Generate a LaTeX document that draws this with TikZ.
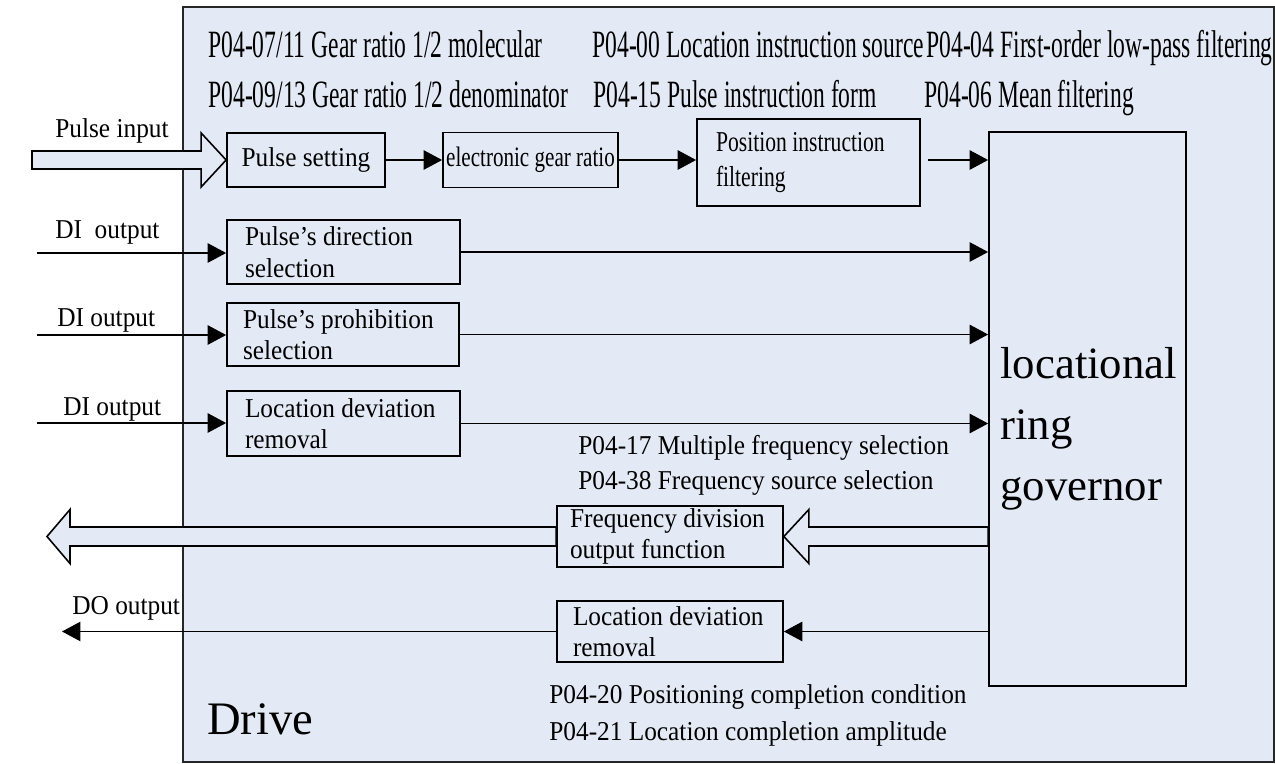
\documentclass[tikz,border=0pt]{standalone}
\usepackage{fontspec}
\setmainfont{Liberation Serif}
\newfontfamily\narrowserif[FakeStretch=0.61]{Liberation Serif}
\newfontfamily\semiserif[FakeStretch=0.75]{Liberation Serif}
\newfontfamily\bodyserif[FakeStretch=0.93]{Liberation Serif}
\usetikzlibrary{arrows.meta, calc}
\definecolor{drivebg}{RGB}{228,234,245}
\hyphenpenalty=10000
\exhyphenpenalty=10000

\begin{document}
\begin{tikzpicture}[x=0.02cm, y=-0.02cm,
  drivebox/.style={draw=black!85, line width=1pt, fill=drivebg,
    minimum width=21.82cm, minimum height=15.1cm, inner sep=0pt},
  blk/.style={draw, line width=1pt, fill=drivebg, inner sep=0pt, align=flush left,
    font=\bodyserif\fontsize{15.5}{18}\selectfont},
  govbox/.style={draw, line width=1pt, fill=drivebg,
    minimum width=3.94cm, minimum height=11.08cm, inner sep=0pt},
  govtext/.style={anchor=west, inner sep=0pt, align=left,
    font=\fontsize{25.5}{34.6}\selectfont},
  param/.style={anchor=base west, inner sep=0pt,
    font=\narrowserif\fontsize{22}{26}\selectfont},
  note/.style={anchor=base west, inner sep=0pt,
    font=\bodyserif\fontsize{15.5}{18}\selectfont},
  arr/.style={-{Triangle[length=10.5pt, width=11pt]}, line width=0.9pt},
  hollow/.style={draw, line width=0.9pt, fill=drivebg, line join=miter},
]
\useasboundingbox (0,0) rectangle (1275,764);

% ── Drive frame ──
\node[drivebox] (drive) at (728.5,384.5) {};
\node[anchor=base west, inner sep=0pt, font=\fontsize{26.5}{30}\selectfont]
  (drivelabel) at (207,734) {Drive};

% ── Parameter lists ──
\node[param] (gearnum)   at (208,57)  {P04-07/11 Gear ratio 1/2 molecular};
\node[param] (locsrc)    at (592,57)  {P04-00 Location instruction source};
\node[param] (lowpass)   at (926,57)  {P04-04 First-order low-pass filtering};
\node[param] (gearden)   at (208,107) {P04-09/13 Gear ratio 1/2 denominator};
\node[param] (pulseform) at (593,107) {P04-15 Pulse instruction form};
\node[param] (meanfilt)  at (924,107) {P04-06 Mean filtering};

\node[note] (multfreq) at (578,454) {P04-17 Multiple frequency selection};
\node[note] (freqsrc)  at (578,489) {P04-38 Frequency source selection};
\node[note] (poscond)  at (549,703) {P04-20 Positioning completion condition};
\node[note] (posamp)   at (549,740) {P04-21 Location completion amplitude};

% ── Function blocks ──
\node[blk, align=center, minimum width=3.16cm, minimum height=1.08cm]
  (pset) at (306,160) {Pulse setting};
\node[blk, align=center, minimum width=3.5cm, minimum height=1.1cm,
  font=\semiserif\fontsize{16}{20}\selectfont]
  (egear) at (530.5,160) {electronic gear ratio};
\node[blk, minimum width=4.46cm, minimum height=1.74cm, text width=3.7cm,
  font=\semiserif\fontsize{16.4}{20}\selectfont]
  (pfilt) at (808.5,162.5) {Position instruction\\filtering};

\node[blk, minimum width=4.66cm, minimum height=1.28cm, text width=3.94cm]
  (pdir) at (343.5,252) {Pulse’s direction\\selection};
\node[blk, minimum width=4.64cm, minimum height=1.26cm, text width=4.0cm]
  (pproh) at (343,334.5) {Pulse’s prohibition\\selection};
\node[blk, minimum width=4.66cm, minimum height=1.3cm, text width=3.94cm]
  (ldev) at (343.5,423.5) {Location deviation\\removal};

\node[blk, minimum width=4.52cm, minimum height=1.22cm, text width=4.0cm]
  (fdiv) at (670,536.5) {Frequency division\\output function};
\node[blk, minimum width=4.52cm, minimum height=1.22cm, text width=3.88cm]
  (ldevout) at (670,631.5) {Location deviation\\removal};

\node[govbox] (gov) at (1087.5,409) {};
\node[govtext] (govlabel) at (1000,428.5) {locational\\ring\\governor};

% ── Outside signals ──
\node[note] (pinlabel) at (55,137) {Pulse input};
\node[note] (di1label) at (55,238) {DI\ \ output};
\node[note] (di2label) at (57,326) {DI output};
\node[note] (di3label) at (63,415) {DI output};
\node[note] (dolabel)  at (72,614) {DO output};

\coordinate (pin)   at (32,160);
\coordinate (di1)   at (37,253);
\coordinate (di2)   at (37,335);
\coordinate (di3)   at (37,423);
\coordinate (pfout) at (928,160);
\coordinate (fout)  at (47,536.5);
\coordinate (dout)  at (62,631.5);

% pulse input (hollow arrow)
\draw[hollow] ($(pin)+(0,-9)$) -- ($(pset.west)+(-25,-9)$)
  -- ($(pset.west)+(-25,-27)$) -- (pset.west) -- ($(pset.west)+(-25,27)$)
  -- ($(pset.west)+(-25,9)$) -- ($(pin)+(0,9)$) -- cycle;

% pulse chain
\draw[arr] (pset.east) -- (egear.west);
\draw[arr] (egear.east) -- (egear.east -| pfilt.west);
\draw[arr] (pfout) -- (pfout -| gov.west);

% DI inputs
\draw[arr] (di1) -- (di1 -| pdir.west);
\draw[arr] (di2) -- (di2 -| pproh.west);
\draw[arr] (di3) -- (di3 -| ldev.west);
\draw[arr] (pdir.east) -- (pdir.east -| gov.west);
\draw[arr] (pproh.east) -- (pproh.east -| gov.west);
\draw[arr] (ldev.east) -- (ldev.east -| gov.west);

% frequency division output (hollow arrows)
\draw[hollow] ($(gov.west |- fdiv.east)+(0,-9.5)$) -- ($(fdiv.east)+(25,-9.5)$)
  -- ($(fdiv.east)+(25,-27)$) -- (fdiv.east) -- ($(fdiv.east)+(25,27)$)
  -- ($(fdiv.east)+(25,9.5)$) -- ($(gov.west |- fdiv.east)+(0,9.5)$) -- cycle;
\draw[hollow] ($(fdiv.west)+(0,-9.5)$) -- ($(fout)+(23,-9.5)$)
  -- ($(fout)+(23,-27)$) -- (fout) -- ($(fout)+(23,27)$)
  -- ($(fout)+(23,9.5)$) -- ($(fdiv.west)+(0,9.5)$) -- cycle;

% DO output
\draw[arr] (gov.west |- ldevout.east) -- (ldevout.east);
\draw[arr] (ldevout.west) -- (ldevout.west -| dout);
\end{tikzpicture}
\end{document}
